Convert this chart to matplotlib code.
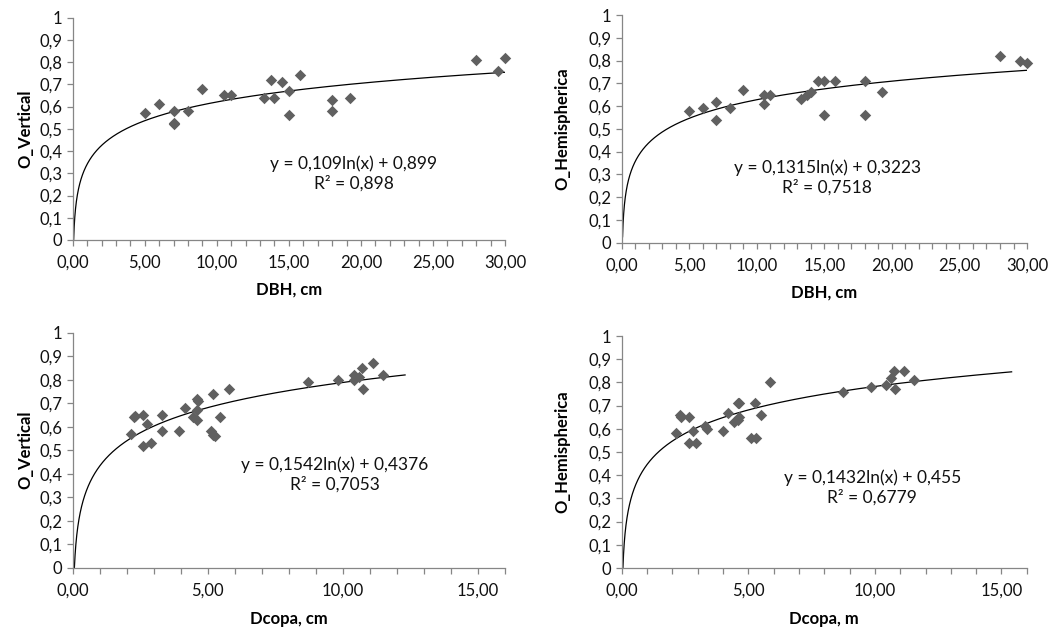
"""Canopy openness vs. tree size: four log-trend scatter panels."""
import numpy as np
import matplotlib

matplotlib.use("Agg")
import matplotlib.pyplot as plt
from matplotlib.ticker import FixedLocator, MultipleLocator

plt.rcParams["font.family"] = ["Lato", "DejaVu Sans"]

# DBH (cm) shared by the two top panels
dbh_vert = [5, 6, 7, 7, 7, 8, 9, 10.5, 11, 13.25, 13.75, 14, 14.5, 15, 15, 15.75,
            18, 18, 19.25, 28, 29.5, 30]
o_vert_dbh = [0.57, 0.61, 0.58, 0.52, 0.525, 0.58, 0.68, 0.65, 0.65, 0.64, 0.72, 0.64,
              0.71, 0.67, 0.56, 0.74, 0.63, 0.58, 0.64, 0.81, 0.76, 0.82]

dbh_hemi = [5, 6, 7, 7, 8, 9, 10.5, 10.5, 11, 13.25, 13.75, 14, 14.5, 15, 15, 15.75,
            18, 18, 19.25, 28, 29.5, 30]
o_hemi_dbh = [0.58, 0.59, 0.62, 0.54, 0.59, 0.67, 0.65, 0.61, 0.65, 0.63, 0.65, 0.66,
              0.71, 0.71, 0.56, 0.71, 0.71, 0.56, 0.66, 0.82, 0.80, 0.79]

# crown diameter
dcopa_vert = [2.15, 2.25, 2.3, 2.6, 2.6, 2.75, 2.9, 3.3, 3.3, 3.95, 4.15, 4.45, 4.6,
              4.6, 4.6, 4.65, 5.1, 5.2, 5.2, 5.25, 5.45, 5.8, 8.7, 9.8, 10.4, 10.4,
              10.6, 10.7, 10.75, 11.1, 11.5]
o_vert_dcopa = [0.57, 0.64, 0.645, 0.65, 0.52, 0.61, 0.53, 0.65, 0.58, 0.58, 0.68,
                0.64, 0.67, 0.63, 0.72, 0.71, 0.58, 0.74, 0.565, 0.56, 0.64, 0.76,
                0.79, 0.80, 0.82, 0.80, 0.81, 0.85, 0.76, 0.87, 0.82]

dcopa_hemi = [2.15, 2.3, 2.35, 2.65, 2.65, 2.8, 2.95, 3.3, 3.35, 4.0, 4.2, 4.45, 4.6,
              4.65, 4.6, 4.65, 5.1, 5.3, 5.25, 5.5, 5.85, 8.75, 9.85, 10.45, 10.65,
              10.75, 10.8, 11.15, 11.55]
o_hemi_dcopa = [0.58, 0.66, 0.65, 0.65, 0.54, 0.59, 0.54, 0.61, 0.60, 0.59, 0.67,
                0.63, 0.71, 0.71, 0.64, 0.65, 0.56, 0.56, 0.71, 0.66, 0.80, 0.76,
                0.78, 0.79, 0.82, 0.85, 0.77, 0.85, 0.81]

x_labels = ["DBH, cm", "DBH, cm", "Dcopa, cm", "Dcopa, m"]
y_labels = ["O_Vertical", "O_Hemispherica", "O_Vertical", "O_Hemispherica"]
fit_texts = [
    "y = 0,109ln(x) + 0,899\nR² = 0,898",
    "y = 0,1315ln(x) + 0,3223\nR² = 0,7518",
    "y = 0,1542ln(x) + 0,4376\nR² = 0,7053",
    "y = 0,1432ln(x) + 0,455\nR² = 0,6779",
]
x_max = [30, 30, 16, 16]
x_major = [5, 5, 5, 5]
x_major_max = [30, 30, 15, 15]
trend_start = [0.005, 0.06, 0.005, 0.005]
trend_end = [30, 30, 12.3, 15.4]
text_pos = [(19.5, 0.30), (15.2, 0.286), (9.7, 0.395), (9.9, 0.347)]

panels = [
    (dbh_vert, o_vert_dbh),
    (dbh_hemi, o_hemi_dbh),
    (dcopa_vert, o_vert_dcopa),
    (dcopa_hemi, o_hemi_dcopa),
]

# axes rectangles in figure fractions
rects = [
    [0.0687, 0.6197, 0.4082, 0.3523],
    [0.5871, 0.6154, 0.3827, 0.3608],
    [0.0687, 0.1003, 0.4082, 0.3724],
    [0.5871, 0.0998, 0.3825, 0.3677],
]
ylabel_pad = [4, 13, 4, 13]
xlabel_pad = [8, 8, 9, 9]

AXIS_GRAY = "#868686"
MARK_GRAY = "#606060"

fig = plt.figure(figsize=(10.59, 6.31), dpi=100)

for i, (xs, ys) in enumerate(panels):
    ax = fig.add_axes(rects[i])
    x = np.asarray(xs, dtype=float)
    y = np.asarray(ys, dtype=float)

    ax.scatter(x, y, marker="D", s=34, color=MARK_GRAY, linewidths=0, zorder=3,
               clip_on=False)

    # logarithmic trend fitted to the points
    slope, icpt = np.polyfit(np.log(x), y, 1)
    tx = np.geomspace(trend_start[i], trend_end[i], 1500)
    ty = slope * np.log(tx) + icpt
    keep = ty >= 0
    ax.plot(tx[keep], ty[keep], color="black", lw=0.9, zorder=2)

    ax.text(*text_pos[i], fit_texts[i], ha="center", va="center",
            multialignment="center", fontsize=12.5, color="#111111", linespacing=1.25)

    ax.set_xlim(0, x_max[i])
    ax.set_ylim(0, 1)
    ax.xaxis.set_major_locator(FixedLocator(np.arange(0, x_major_max[i] + 1, x_major[i])))
    ax.xaxis.set_minor_locator(MultipleLocator(1))
    ax.xaxis.set_major_formatter(lambda v, _: f"{v:.2f}".replace(".", ","))
    ax.yaxis.set_major_locator(MultipleLocator(0.1))
    ax.yaxis.set_major_formatter(
        lambda v, _: "0" if abs(v) < 1e-9 else ("1" if abs(v - 1) < 1e-9 else f"{v:.1f}".replace(".", ",")))

    for side in ("top", "right"):
        ax.spines[side].set_visible(False)
    for side in ("left", "bottom"):
        ax.spines[side].set_color(AXIS_GRAY)
        ax.spines[side].set_linewidth(0.9)

    ax.tick_params(which="both", direction="out", color=AXIS_GRAY, width=0.9,
                   labelsize=12, labelcolor="#111111")
    ax.tick_params(axis="x", which="both", length=4.5, pad=6)
    ax.tick_params(axis="y", which="major", length=4.5, pad=3)

    ax.set_xlabel(x_labels[i], fontsize=12, fontweight="bold", labelpad=xlabel_pad[i])
    ax.set_ylabel(y_labels[i], fontsize=12, fontweight="bold", labelpad=ylabel_pad[i])

fig.savefig("out.png", dpi=100)
